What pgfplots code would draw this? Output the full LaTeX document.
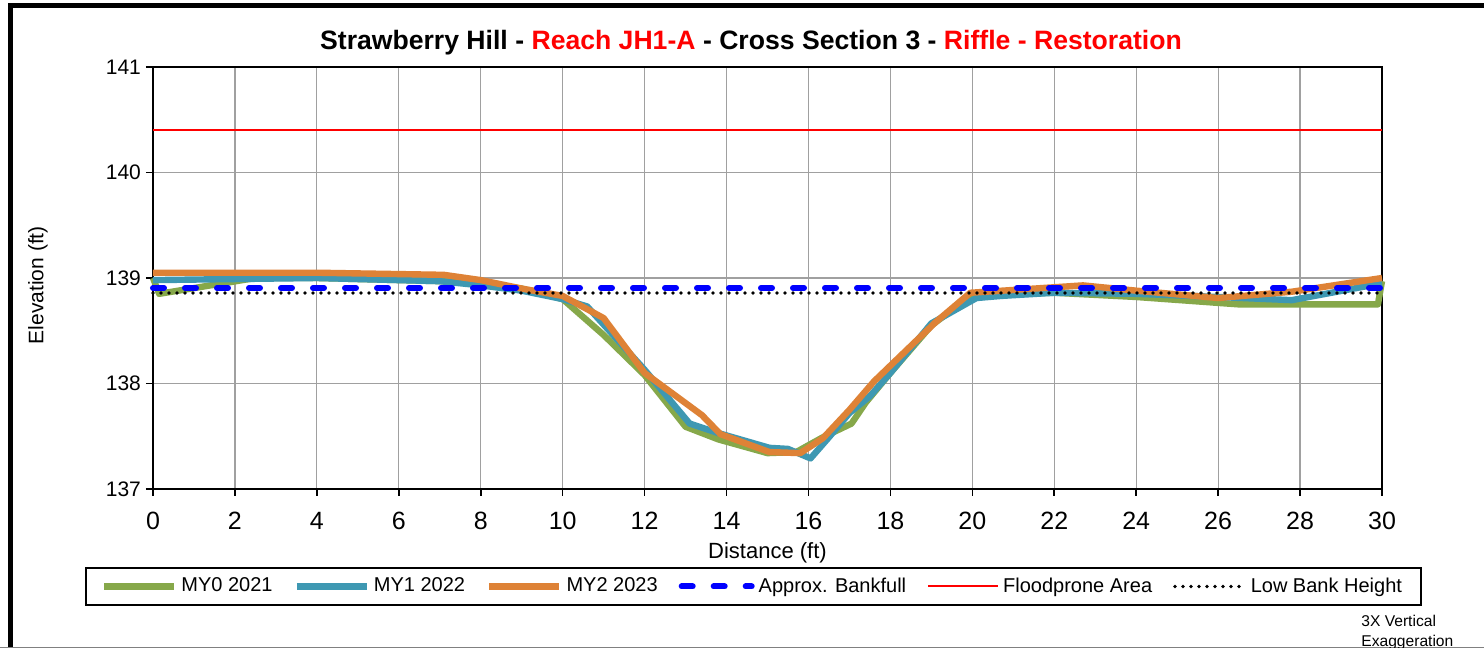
\documentclass[border=0pt]{standalone}
\usepackage{fontspec}
\setmainfont{Liberation Sans}
\usepackage{pgfplots}
\pgfplotsset{compat=1.18}
\definecolor{myzero}{RGB}{134,168,74}
\definecolor{myone}{RGB}{62,152,178}
\definecolor{mytwo}{RGB}{222,130,54}
\definecolor{gridgray}{RGB}{160,160,160}
\begin{document}
\begin{tikzpicture}
\useasboundingbox (0,0) rectangle (742pt,324pt);
\fill[white] (0,0) rectangle (742pt,324pt);
\draw[line width=2.6pt] (5.2pt,-10pt) -- (5.2pt,321.3pt) -- (760pt,321.3pt);
\draw[gray, line width=0.6pt] (0pt,0.4pt) -- (742pt,0.4pt);
\begin{axis}[
  at={(76.5pt,79.5pt)}, anchor=south west,
  scale only axis, width=614.5pt, height=211pt,
  xmin=0, xmax=30, ymin=137, ymax=141,
  xtick={0,2,...,30}, ytick={137,138,139,140,141},
  grid=major,
  major grid style={gridgray, line width=0.6pt},
  axis line style={black, line width=1pt},
  tick align=outside, major tick length=3.5pt,
  tick style={black, line width=0.8pt},
  xtick pos=bottom, ytick pos=left,
  /pgf/number format/assume math mode=true,
  yticklabel style={font=\fontsize{10.5}{12}\selectfont, xshift=1pt},
  xticklabel style={font=\fontsize{12.5}{14}\selectfont, yshift=-4.5pt},
  xlabel={Distance (ft)}, ylabel={Elevation (ft)},
  xlabel style={at={(axis description cs:0.5,-0.152)}, anchor=center, font=\fontsize{11}{13}\selectfont},
  ylabel style={at={(axis description cs:-0.0936,0.483)}, anchor=center, rotate=0, font=\fontsize{10.5}{12}\selectfont},
  title={Strawberry Hill - \textcolor{red}{Reach JH1-A} - Cross Section 3 - \textcolor{red}{Riffle - Restoration}},
  every axis title shift=0pt,
  title style={at={(axis description cs:0.4866,1.057)}, anchor=center, yshift=0pt, font=\fontsize{13.3}{15}\selectfont\bfseries},
  legend columns=6,
  legend style={at={(axis description cs:0.4886,-0.231)}, anchor=center,
    draw=black, line width=0.8pt, font=\fontsize{10}{12}\selectfont,
    inner xsep=7.5pt, inner ysep=3pt,
    /tikz/every even column/.append style={column sep=8.5pt}},
  legend image code/.code={\draw[#1] (0pt,0pt) -- (35pt,0pt);},
  clip=false,
]
\addplot[myzero, line width=3.2pt, line join=round] coordinates {
(0,139.00) (0.15,138.85) (2.5,139.00) (4,139.00) (6,138.98) (7,138.97) (8,138.95) (9,138.90) (10,138.80) (11,138.46) (12,138.08) (13,137.59) (13.8,137.47) (15,137.34) (15.7,137.35) (16.35,137.49) (17.05,137.62) (17.4,137.82) (18,138.10) (19,138.55) (20,138.84) (22,138.86) (24,138.82) (26.5,138.75) (29.9,138.75) (30,138.97)
};
\addlegendentry{MY0 2021}
\addplot[myone, line width=3.2pt, line join=round] coordinates {
(0,138.98) (2,138.99) (4,139.00) (6,138.98) (7,138.97) (8,138.93) (9,138.88) (10,138.80) (10.6,138.73) (12,138.13) (13.1,137.62) (13.8,137.53) (15.05,137.39) (15.5,137.38) (16.05,137.29) (16.5,137.49) (17,137.72) (17.5,137.88) (18,138.10) (19,138.57) (20.1,138.81) (20.7,138.83) (22,138.86) (24,138.85) (26,138.82) (27.8,138.79) (30,138.95)
};
\addlegendentry{MY1 2022}
\addplot[mytwo, line width=3.2pt, line join=round] coordinates {
(0,139.05) (4,139.05) (7.1,139.03) (8,138.98) (9,138.90) (10,138.83) (11,138.62) (12,138.10) (13.4,137.70) (13.85,137.52) (15.05,137.35) (15.8,137.34) (16.35,137.48) (17,137.75) (17.6,138.02) (19.1,138.58) (19.95,138.86) (22.7,138.93) (24,138.88) (26,138.81) (27.8,138.87) (30,139.00)
};
\addlegendentry{MY2 2023}
\addplot[blue, line width=3pt, line cap=round, dash pattern=on 5.5pt off 10.5pt] coordinates {(0,138.905) (30,138.905)};
\addlegendentry{Approx. Bankfull}
\addplot[red, line width=1pt] coordinates {(0,140.40) (30,140.40)};
\addlegendentry{Floodprone Area}
\addplot[black, line width=1.8pt, line cap=round, dash pattern=on 0pt off 4pt] coordinates {(0,138.858) (30,138.858)};
\addlegendentry{Low Bank Height}
\end{axis}
\node[anchor=north west, align=left, font=\fontsize{7.8}{10}\selectfont, inner sep=0pt] at (680.5pt,16.5pt) {3X Vertical\\Exaggeration};
\end{tikzpicture}
\end{document}
